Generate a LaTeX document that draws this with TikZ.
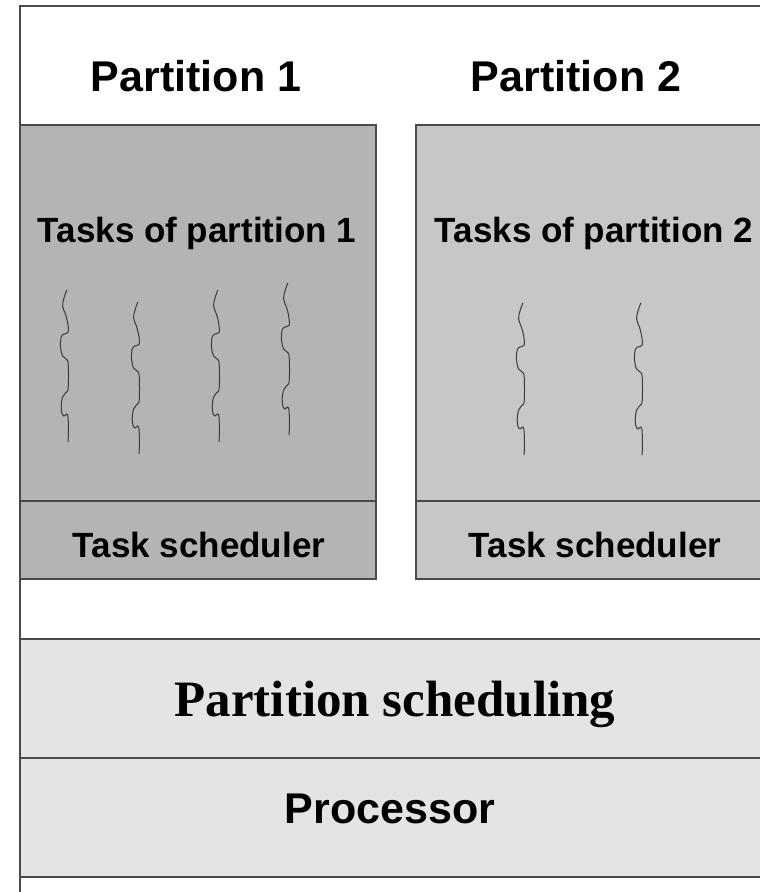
\documentclass[tikz,border=0pt]{standalone}
\usepackage{fontspec}
\setmainfont{Liberation Sans}
\newfontfamily\serifbold{Liberation Serif}
\definecolor{frameline}{HTML}{4A4A4A}
\definecolor{partA}{HTML}{B4B4B4}
\definecolor{partB}{HTML}{C7C7C7}
\definecolor{bandfill}{HTML}{E4E4E4}
\definecolor{threadcol}{HTML}{3A3A3A}
\tikzset{
  boxline/.style={draw=frameline, line width=1.4pt},
  threadline/.style={draw=threadcol, line width=1pt},
  headtext/.style={anchor=base, inner sep=0pt, font=\fontsize{43}{50}\selectfont\bfseries},
  tasktext/.style={anchor=base, inner sep=0pt, font=\fontsize{35}{42}\selectfont\bfseries},
  schedtext/.style={anchor=base, inner sep=0pt, font=\serifbold\fontsize{51}{58}\selectfont\bfseries},
  thread/.pic={\draw[threadline, xscale=1.4] plot[smooth, tension=0.6] coordinates {(2,0) (0,8) (-1,16) (1,24) (2.5,32) (3,42) (0,44) (-2,47) (-2.5,57) (-1,66) (1.5,69) (3,74) (3,98) (1,103) (-1,107) (-2,116) (-1.5,123) (0,126) (2,124) (3,130) (3,152)};}
}
\begin{document}
\begin{tikzpicture}[x=1pt, y=-1pt]
\useasboundingbox (0,0) rectangle (760,892);
\clip (0,0) rectangle (760,892);
\fill[white] (0,0) rectangle (760,892);
% outer frame
\draw[boxline] (20,892) -- (20,6) -- (770,6);
% partition 1
\filldraw[boxline, fill=partA] (20,125) rectangle (376,579);
\draw[boxline] (20,501) -- (376,501);
% partition 2
\filldraw[boxline, fill=partB] (416,125) rectangle (775,579);
\draw[boxline] (416,501) -- (775,501);
% bands
\filldraw[boxline, fill=bandfill] (20,639) rectangle (775,758);
\filldraw[boxline, fill=bandfill] (20,758) rectangle (775,877);
% texts
\node[headtext] (p1) at (196,91) {Partition 1};
\node[headtext] (p2) at (576,91) {Partition 2};
\node[tasktext] (t1) at (197,242) {Tasks of partition 1};
\node[tasktext] (t2) at (594,242) {Tasks of partition 2};
\node[tasktext] (s1) at (199,557) {Task scheduler};
\node[tasktext] (s2) at (595,557) {Task scheduler};
\node[schedtext] (ps) at (395,716) {Partition scheduling};
\node[headtext] (pr) at (390,823) {Processor};
% threads
\pic at (64,290) {thread};
\pic at (135,302) {thread};
\pic at (215,290) {thread};
\pic at (285,283) {thread};
\pic at (520,303) {thread};
\pic at (638,303) {thread};
\end{tikzpicture}
\end{document}
